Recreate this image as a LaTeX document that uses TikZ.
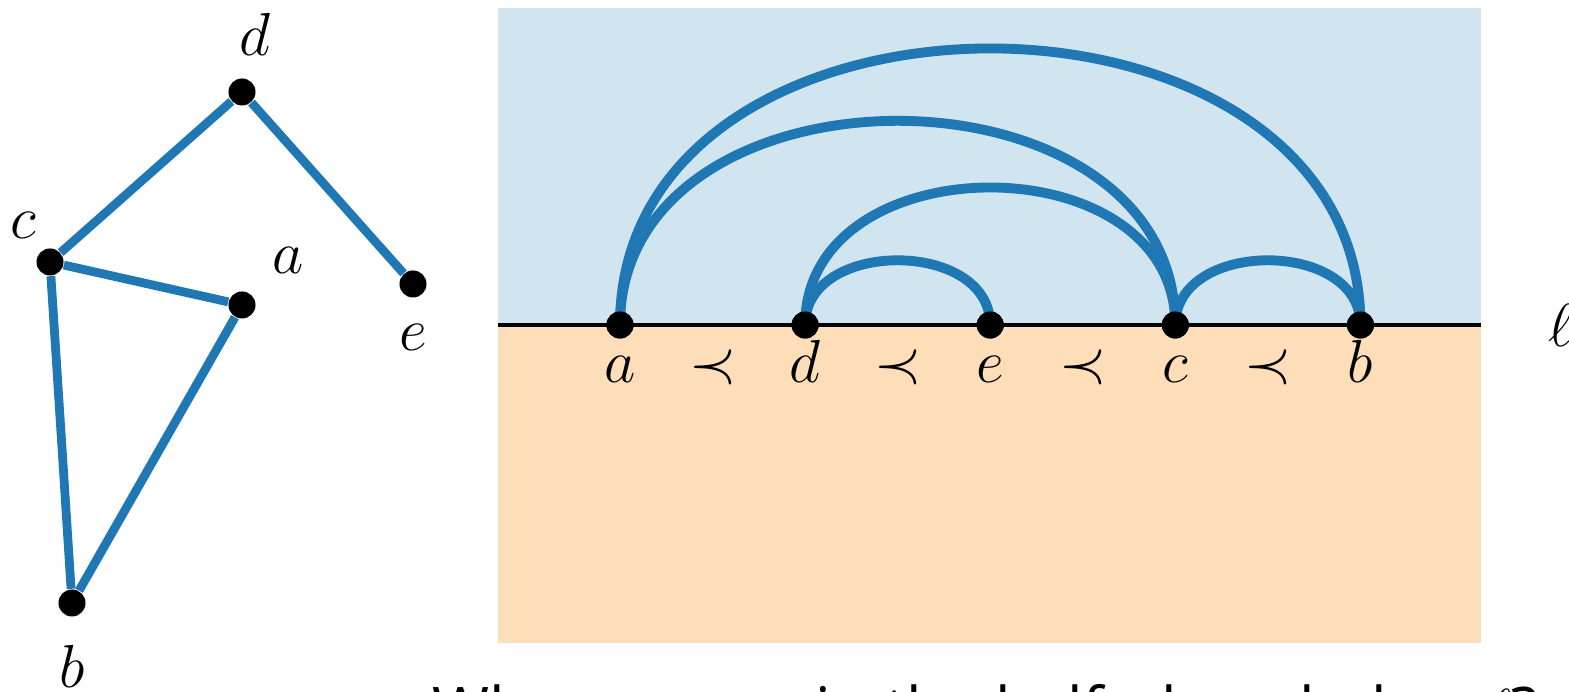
\documentclass[tikz,border=0pt]{standalone}
\usepackage{amsmath,amssymb}
\usepackage{fontspec}
\usepackage{xcolor}
\usepackage{tikz}
\usetikzlibrary{positioning}
\newfontfamily\quesfont{Open Sans}
\definecolor{edgeblue}{HTML}{1F77B4}
\definecolor{upperblue}{HTML}{D1E5F0}
\definecolor{lowerorange}{HTML}{FDDEB9}

\begin{document}
\begin{tikzpicture}[x=0.01cm,y=0.01cm,
  vtx/.style={circle,fill=black,inner sep=0pt,minimum size=0.27cm},
  gedge/.style={line width=2.5pt,color=edgeblue},
  arcedge/.style={line width=2.8pt,color=edgeblue},
  glbl/.style={inner sep=0pt,font=\fontsize{17.6}{20}\selectfont},
  lbl/.style={inner sep=0pt,text height=0.7em,text depth=0.2em,font=\fontsize{17.6}{20}\selectfont}
]
  \useasboundingbox (0,0) rectangle (1569,692);
  % the graph
  \node[vtx] (d) at (242,600) {};
  \node[vtx] (c) at (50,430) {};
  \node[vtx] (a) at (242,387) {};
  \node[vtx] (e) at (413,408) {};
  \node[vtx] (b) at (72,89) {};
  \draw[gedge] (c)--(d); \draw[gedge] (d)--(e);
  \draw[gedge] (c)--(a); \draw[gedge] (c)--(b); \draw[gedge] (a)--(b);
  \node[glbl,above=0.22cm of d,xshift=0.13cm] (ld0) {$d$};
  \node[glbl,above=0.09cm of c,xshift=-0.27cm] (lc0) {$c$};
  \node[glbl,above=0.17cm of a,xshift=0.46cm] (la0) {$a$};
  \node[glbl,below=0.25cm of e] (le0) {$e$};
  \node[glbl,below=0.27cm of b] (lb0) {$b$};
  % the two half-planes
  \fill[upperblue] (498,367) rectangle (1481,684);
  \fill[lowerorange] (498,49) rectangle (1481,367);
  \coordinate (lw) at (498,367);
  \coordinate (lend) at (1481,367);
  \draw[line width=0.9pt] (lw)--(lend);
  \node[glbl] (ell) at (1561,367) {$\ell$};
  % vertices on the line
  \node[vtx] (pa) at (620,367) {};
  \node[vtx,on grid,right=1.85cm of pa] (pd) {};
  \node[vtx,on grid,right=1.85cm of pd] (pe) {};
  \node[vtx,on grid,right=1.85cm of pe] (pc) {};
  \node[vtx,on grid,right=1.85cm of pc] (pb) {};
  \draw[arcedge] (pa.center) to[out=90,in=90,looseness=1.277] (pb.center);
  \draw[arcedge] (pa.center) to[out=90,in=90,looseness=1.257] (pc.center);
  \draw[arcedge] (pd.center) to[out=90,in=90,looseness=1.27] (pc.center);
  \draw[arcedge] (pd.center) to[out=90,in=90,looseness=1.195] (pe.center);
  \draw[arcedge] (pc.center) to[out=90,in=90,looseness=1.195] (pb.center);
  \foreach \v in {pa,pd,pe,pc,pb} \node[vtx] at (\v) {};
  % the order
  \node[lbl,below=0.175cm of pa] (la) {$a$};
  \node[lbl,below=0.175cm of pd] (ld) {$d$};
  \node[lbl,below=0.175cm of pe] (le) {$e$};
  \node[lbl,below=0.175cm of pc] (lc) {$c$};
  \node[lbl,below=0.175cm of pb] (lb) {$b$};
  \path (la) -- node[lbl] {$\prec$} (ld);
  \path (ld) -- node[lbl] {$\prec$} (le);
  \path (le) -- node[lbl] {$\prec$} (lc);
  \path (lc) -- node[lbl] {$\prec$} (lb);
  % question, cut off by the page
  \node[anchor=base west,inner sep=0pt,font=\quesfont\fontsize{17.5}{20}\selectfont] (ques) at (432,-40) {Why are arcs in the half-plane below $\ell$?};
\end{tikzpicture}
\end{document}
